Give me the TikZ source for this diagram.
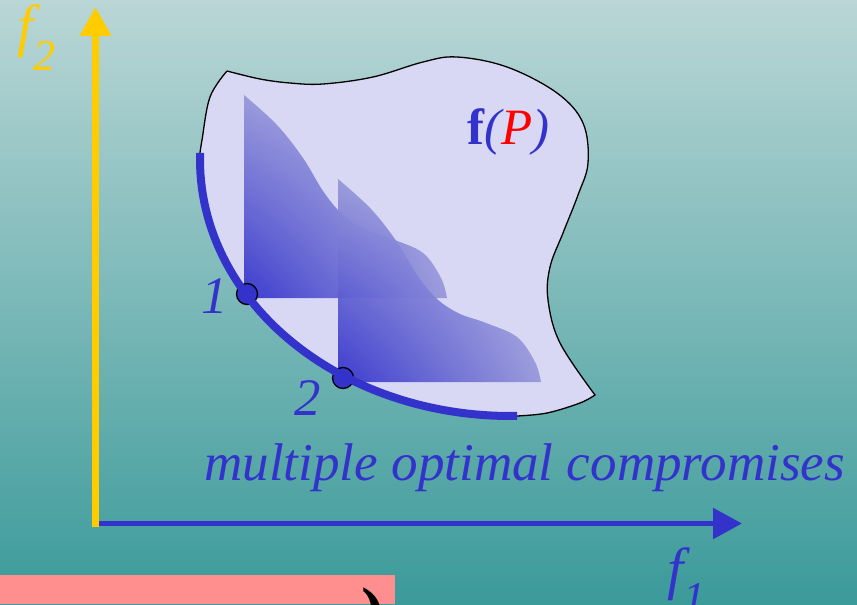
\documentclass[tikz,border=0pt]{standalone}
\usepackage{fontspec}
\setmainfont{Liberation Serif}
\usetikzlibrary{arrows.meta,shadings}
\definecolor{bgtop}{HTML}{BAD6D6}
\definecolor{bgbot}{HTML}{3B9A9A}
\definecolor{axyellow}{HTML}{FFCC00}
\definecolor{axblue}{HTML}{3333CC}
\definecolor{blobfill}{HTML}{D8D8F4}
\definecolor{pinkbar}{HTML}{FF8E8E}
\definecolor{conedark}{HTML}{3333CC}
\definecolor{conemid}{HTML}{9898DA}
\definecolor{conelight}{HTML}{BCBCEA}
\definecolor{fpred}{HTML}{FF0000}
\tikzset{
  yaxisline/.style={draw=axyellow,line width=0.14cm,-{Triangle[length=0.58cm,width=0.6cm]}},
  xaxisline/.style={draw=axblue,line width=0.11cm,-{Triangle[length=0.58cm,width=0.6cm]}},
  conefill/.style={lower left=conedark,upper left=conemid,lower right=conemid,upper right=conelight,fill opacity=0.94},
  paretoarc/.style={draw=axblue,line width=0.16cm,line cap=butt},
  ptdot/.style={circle,fill=axblue,draw=black,line width=0.026cm,minimum size=0.42cm,inner sep=0pt},
  lbl/.style={text=axblue,font=\itshape\fontsize{30}{36}\selectfont,inner sep=0pt}
}
\begin{document}
\begin{tikzpicture}[x=0.02cm,y=-0.02cm]
\useasboundingbox (0,0) rectangle (857,604);
\shade[top color=bgtop,bottom color=bgbot] (0,0) rectangle (857,604);

% feasible region
\fill[blobfill]
  plot[smooth,tension=0.6] coordinates {(227,71) (260,79) (290,83) (323,84) (373,77) (423,62) (457,57) (507,67) (557,93) (583,123) (588,163) (578,195) (563,233) (550,267) (548,300) (560,343) (595,395)}
  -- plot[smooth,tension=0.6] coordinates {(595,395) (580,403) (547,413) (517,416)}
  -- plot[domain=88.7:181.6,samples=60,variable=\t] ({510+310*cos(\t)},{160+256*sin(\t)})
  -- plot[smooth,tension=0.6] coordinates {(200,153) (202,140) (210,97) (227,71)}
  -- cycle;

% dominated cones
\begin{scope}[shift={(244,298)}]
\shade[conefill] (0,0) -- plot[smooth,tension=0.6] coordinates {(0,-203) (33,-173) (59,-140) (79,-107) (98,-84) (120,-69) (148,-59) (179,-45) (197,-20) (203,0)} -- cycle;
\end{scope}
\begin{scope}[shift={(338,382)}]
\shade[conefill] (0,0) -- plot[smooth,tension=0.6] coordinates {(0,-203) (33,-173) (59,-140) (79,-107) (98,-84) (120,-69) (148,-59) (179,-45) (197,-20) (203,0)} -- cycle;
\end{scope}

% outline
\draw[black,line width=0.026cm]
  plot[smooth,tension=0.6] coordinates {(227,71) (260,79) (290,83) (323,84) (373,77) (423,62) (457,57) (507,67) (557,93) (583,123) (588,163) (578,195) (563,233) (550,267) (548,300) (560,343) (595,395)}
  -- plot[smooth,tension=0.6] coordinates {(595,395) (580,403) (547,413) (517,416)};
\draw[black,line width=0.026cm]
  plot[smooth,tension=0.6] coordinates {(200,153) (202,140) (210,97) (227,71)};

% points
\node[ptdot] (p1) at (247,294) {};
\node[ptdot] (p2) at (343,378) {};

% pareto front
\draw[paretoarc] plot[domain=181.6:88.7,samples=60,variable=\t] ({510+310*cos(\t)},{160+256*sin(\t)});

% axes
\coordinate (yorig) at (95.5,527);
\coordinate (ytip) at (95.5,7);
\coordinate (xorig) at (95,523.5);
\coordinate (xtip) at (742,523.5);
\draw[xaxisline] (xorig) -- (xtip);
\draw[yaxisline] (yorig) -- (ytip);

% labels
\node[lbl,text=axyellow,anchor=base west] (f2) at (17,46) {\fontsize{33}{36}\selectfont f\raisebox{-0.42em}{\fontsize{25}{30}\selectfont 2}};
\node[lbl,anchor=base west] (f1) at (667,588) {\fontsize{33}{36}\selectfont f\raisebox{-0.42em}{\fontsize{25}{30}\selectfont 1}};
\node[lbl,anchor=base west] (n1) at (201,313) {1};
\node[lbl,anchor=base west] (n2) at (294,415) {2};
\node[lbl,anchor=base west,font=\itshape\fontsize{30.2}{36}\selectfont] (mult) at (204,480) {multiple optimal compromises};
\node[inner sep=0pt,anchor=base west,font=\fontsize{29}{34}\selectfont,text=axblue] (fP) at (467,145) {\textbf{f}\textit{(\textcolor{fpred}{P})}};

% bottom bar
\fill[pinkbar] (0,575) rectangle (395,604);
\node[inner sep=0pt,anchor=north,font=\bfseries\fontsize{40}{46}\selectfont] (brace) at (373,587) {)};
\end{tikzpicture}
\end{document}
